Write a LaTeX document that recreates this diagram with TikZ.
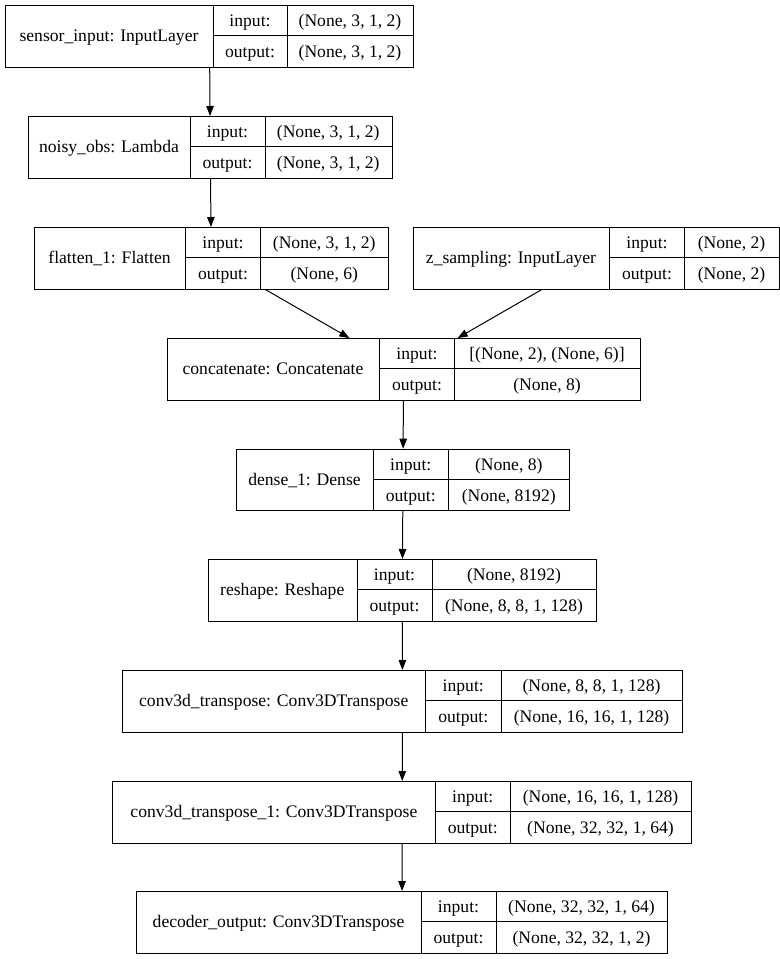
\documentclass[tikz,border=0pt]{standalone}
\usepackage{fontspec}
\setmainfont{Liberation Serif}
\usetikzlibrary{arrows.meta}
\tikzset{
  recbox/.style={draw, line width=1bp, rectangle, inner sep=0pt, anchor=north west},
  cellline/.style={line width=1bp},
  celltext/.style={anchor=base},
  arr/.style={line width=1bp, -{Triangle[length=10bp,width=7.5bp]}},
}
% #1 name, #2 top y, #3 left x, #4 first divider, #5 second divider, #6 right x, #7 title, #8 input, #9 output
\newcommand\layer[9]{%
  \pgfmathsetmacro\lyB{#2+61.5}%
  \pgfmathsetmacro\lyM{#2+30.75}%
  \node[recbox, minimum width={(#6-#3)*1bp}, minimum height=61.5bp] (#1) at (#3,#2) {};
  \draw[cellline] (#4,#2) -- (#4,\lyB);
  \draw[cellline] (#5,#2) -- (#5,\lyB);
  \draw[cellline] (#4,\lyM) -- (#6,\lyM);
  \node[celltext] (#1-name) at ({(#3+#4)/2},{#2+36.5}) {#7};
  \node[celltext] (#1-inl) at ({(#4+#5)/2},{#2+21.7}) {input:};
  \node[celltext] (#1-outl) at ({(#4+#5)/2},{#2+52.4}) {output:};
  \node[celltext] (#1-inv) at ({(#5+#6)/2},{#2+21.7}) {#8};
  \node[celltext] (#1-outv) at ({(#5+#6)/2},{#2+52.4}) {#9};
}
\begin{document}
\begin{tikzpicture}[x=1bp,y=-1bp,font=\rmfamily\fontsize{17.6bp}{21bp}\selectfont]
\useasboundingbox (0,0) rectangle (780,959);
\layer{sensor}{5}{5}{213}{287}{413}{sensor\_input: InputLayer}{(None, 3, 1, 2)}{(None, 3, 1, 2)}
\layer{noisy}{116}{28}{190}{265}{391.5}{noisy\_obs: Lambda}{(None, 3, 1, 2)}{(None, 3, 1, 2)}
\layer{flat}{227}{33.5}{185.5}{260.5}{388}{flatten\_1: Flatten}{(None, 3, 1, 2)}{(None, 6)}
\layer{zsamp}{227}{412.5}{609.5}{684.5}{778.5}{z\_sampling: InputLayer}{(None, 2)}{(None, 2)}
\layer{concat}{338}{166.5}{379.5}{454.5}{639.5}{concatenate: Concatenate}{[(None, 2), (None, 6)]}{(None, 8)}
\layer{dense}{448.7}{236}{373}{448.5}{569}{dense\_1: Dense}{(None, 8)}{(None, 8192)}
\layer{reshape}{559}{207.5}{357}{432}{596}{reshape: Reshape}{(None, 8192)}{(None, 8, 8, 1, 128)}
\layer{conv}{670}{122}{425.5}{501}{682}{conv3d\_transpose: Conv3DTranspose}{(None, 8, 8, 1, 128)}{(None, 16, 16, 1, 128)}
\layer{convb}{781}{112.3}{435.5}{510}{691}{conv3d\_transpose\_1: Conv3DTranspose}{(None, 16, 16, 1, 128)}{(None, 32, 32, 1, 64)}
\layer{dec}{891}{136}{421}{496}{667}{decoder\_output: Conv3DTranspose}{(None, 32, 32, 1, 64)}{(None, 32, 32, 1, 2)}
\draw[arr] (sensor) -- (noisy);
\draw[arr] (noisy) -- (flat);
\draw[arr] (flat) -- (concat);
\draw[arr] (zsamp) -- (concat);
\draw[arr] (concat) -- (dense);
\draw[arr] (dense) -- (reshape);
\draw[arr] (reshape) -- (conv);
\draw[arr] (conv) -- (convb);
\draw[arr] (convb) -- (dec);
\end{tikzpicture}
\end{document}
